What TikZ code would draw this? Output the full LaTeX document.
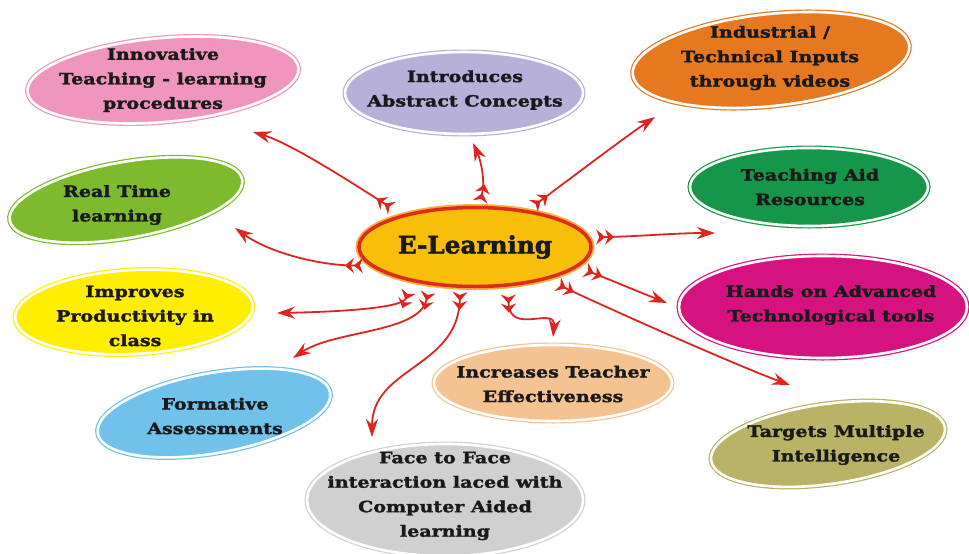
\documentclass[tikz,border=0pt]{standalone}
\usepackage{fontspec}
\setmainfont{DejaVu Serif}
\newfontfamily\bubfont{DejaVu Serif}[FakeStretch=1.23, BoldFeatures={FakeBold=1.8}]
\newfontfamily\hubfont{DejaVu Serif}[FakeStretch=1.03, BoldFeatures={FakeBold=2}]
\usetikzlibrary{arrows.meta, shapes.geometric}

% colours
\definecolor{spokered}{RGB}{222,36,30}
\definecolor{hubfill}{RGB}{247,190,10}
\definecolor{hubring}{RGB}{220,45,25}
\definecolor{hubglow}{RGB}{250,175,60}
\definecolor{pinkfill}{RGB}{240,150,190}
\definecolor{lavfill}{RGB}{183,176,216}
\definecolor{orangefill}{RGB}{230,121,32}
\definecolor{limefill}{RGB}{125,186,45}
\definecolor{greenfill}{RGB}{22,150,72}
\definecolor{yellowfill}{RGB}{255,238,0}
\definecolor{magentafill}{RGB}{214,18,128}
\definecolor{peachfill}{RGB}{245,195,145}
\definecolor{skyfill}{RGB}{112,193,235}
\definecolor{olivefill}{RGB}{186,179,102}
\definecolor{greyfill}{RGB}{208,208,208}

\begin{document}
\begin{tikzpicture}[x=1pt, y=-1pt,
  bubble/.style={ellipse, draw=#1, fill=#1, line width=1.2pt, double=white,
                 double distance=2.6pt, inner sep=0pt},
  bubtext/.style={font=\bubfont\bfseries\fontsize{15.5}{24.5}\selectfont, align=center, text=black!90},
  hub/.style={ellipse, draw=hubring, fill=hubfill, line width=3.5pt,
              preaction={draw=hubglow, line width=7pt}, inner sep=0pt,
              minimum width=232pt, minimum height=79pt,
              font=\hubfont\bfseries\fontsize{24}{28}\selectfont, text=black!90},
  spoke/.style={spokered, line width=1.8pt,
                {Stealth[reversed,length=9pt,width=15pt,inset=3pt]Stealth[reversed,length=9pt,width=15pt,inset=3pt]}-{Stealth[length=18pt,width=12pt,inset=6pt]}}
]
\useasboundingbox (0,0) rectangle (969,554);

% Bubbles
\node[bubble=pinkfill, minimum width=272pt, minimum height=84pt, rotate=5] (inn) at (163,80) {};
\node[bubble=lavfill, minimum width=238pt, minimum height=82pt] (abs) at (464,93) {};
\node[bubble=orangefill, minimum width=278pt, minimum height=92pt, rotate=6] (ind) at (771,60) {};
\node[bubble=limefill, minimum width=236pt, minimum height=76pt, rotate=10] (rt) at (126,200) {};
\node[bubble=greenfill, minimum width=238pt, minimum height=78pt] (tar) at (809,187) {};
\node[bubble=yellowfill, minimum width=238pt, minimum height=84pt, rotate=3] (imp) at (134,312) {};
\node[bubble=magentafill, minimum width=288pt, minimum height=102pt] (hot) at (823,307) {};
\node[bubble=peachfill, minimum width=238pt, minimum height=76pt] (ite) at (553,383) {};
\node[bubble=skyfill, minimum width=236pt, minimum height=80pt, rotate=10] (fa) at (214,413) {};
\node[bubble=olivefill, minimum width=236pt, minimum height=80pt, rotate=8] (tmi) at (828,444) {};
\node[bubble=greyfill, minimum width=276pt, minimum height=112pt] (ftf) at (445,500) {};

% Texts
\node[bubtext] (inn-t) at (inn) {Innovative\\Teaching - learning\\procedures};
\node[bubtext] (abs-t) at (465,90) {Introduces\\Abstract Concepts};
\node[bubtext] (ind-t) at (770,58) {Industrial /\\Technical Inputs\\through videos};
\node[bubtext] (rt-t) at (117,205) {Real Time\\learning};
\node[bubtext] (tar-t) at (810,187) {Teaching Aid\\Resources};
\node[bubtext] (imp-t) at (135,316) {Improves\\Productivity in\\class};
\node[bubtext] (hot-t) at (831,305) {Hands on Advanced\\Technological tools};
\node[bubtext] (ite-t) at (553,384) {Increases Teacher\\Effectiveness};
\node[bubtext] (fa-t) at (215,416) {Formative\\Assessments};
\node[bubtext] (tmi-t) at (836,445) {Targets Multiple\\Intelligence};
\node[bubtext] (ftf-t) at (445,496) {Face to Face\\interaction laced with\\Computer Aided\\learning};

% Hub
\node[hub] (E) at (475,247) {E-Learning};

% Arrow heads
\coordinate (inn-a) at (253,132);
\coordinate (rt-a)  at (235,228);
\coordinate (abs-a) at (473,143);
\coordinate (ind-a) at (655,117);
\coordinate (tar-a) at (715,233);
\coordinate (hot-a) at (667,303);
\coordinate (tmi-a) at (790,385);
\coordinate (ite-a) at (553,337);
\coordinate (ftf-a) at (372,437);
\coordinate (fa-a)  at (293,358);
\coordinate (imp-a) at (277,313);

% Spokes
\draw[spoke, shorten <=12pt] (E.156) .. controls +(-40,-25) and +(40,12) .. (inn-a);
\draw[spoke, shorten <=7pt]  (E.190) .. controls +(-50,0) and +(35,25) .. (rt-a);
\draw[spoke, shorten <=4pt]  (E.84)  .. controls +(6,-25) and +(8,18) .. (abs-a);
\draw[spoke, shorten <=7pt]  (E.35)  .. controls +(30,-22) and +(-30,20) .. (ind-a);
\draw[spoke, shorten <=7pt]  (E.5)   .. controls +(40,0) and +(-40,0) .. (tar-a);
\draw[spoke, shorten <=8pt]  (E.-11) .. controls +(30,12) and +(-30,-12) .. (hot-a);
\draw[spoke, shorten <=11pt] (E.-24) .. controls +(45,22) and +(-55,-20) .. (tmi-a);
\draw[spoke, shorten <=8pt]  (E.-50) .. controls +(1,50) and +(3,-32) .. (ite-a);
\draw[spoke, shorten <=4pt]  (E.250) .. controls +(-2,80) and +(0,-70) .. (ftf-a);
\draw[spoke, shorten <=7pt]  (E.220) .. controls +(-10,48) and +(42,-28) .. (fa-a);
\draw[spoke, shorten <=10pt] (E.209) .. controls +(-10,27) and +(53,-1) .. (imp-a);

\end{tikzpicture}
\end{document}
